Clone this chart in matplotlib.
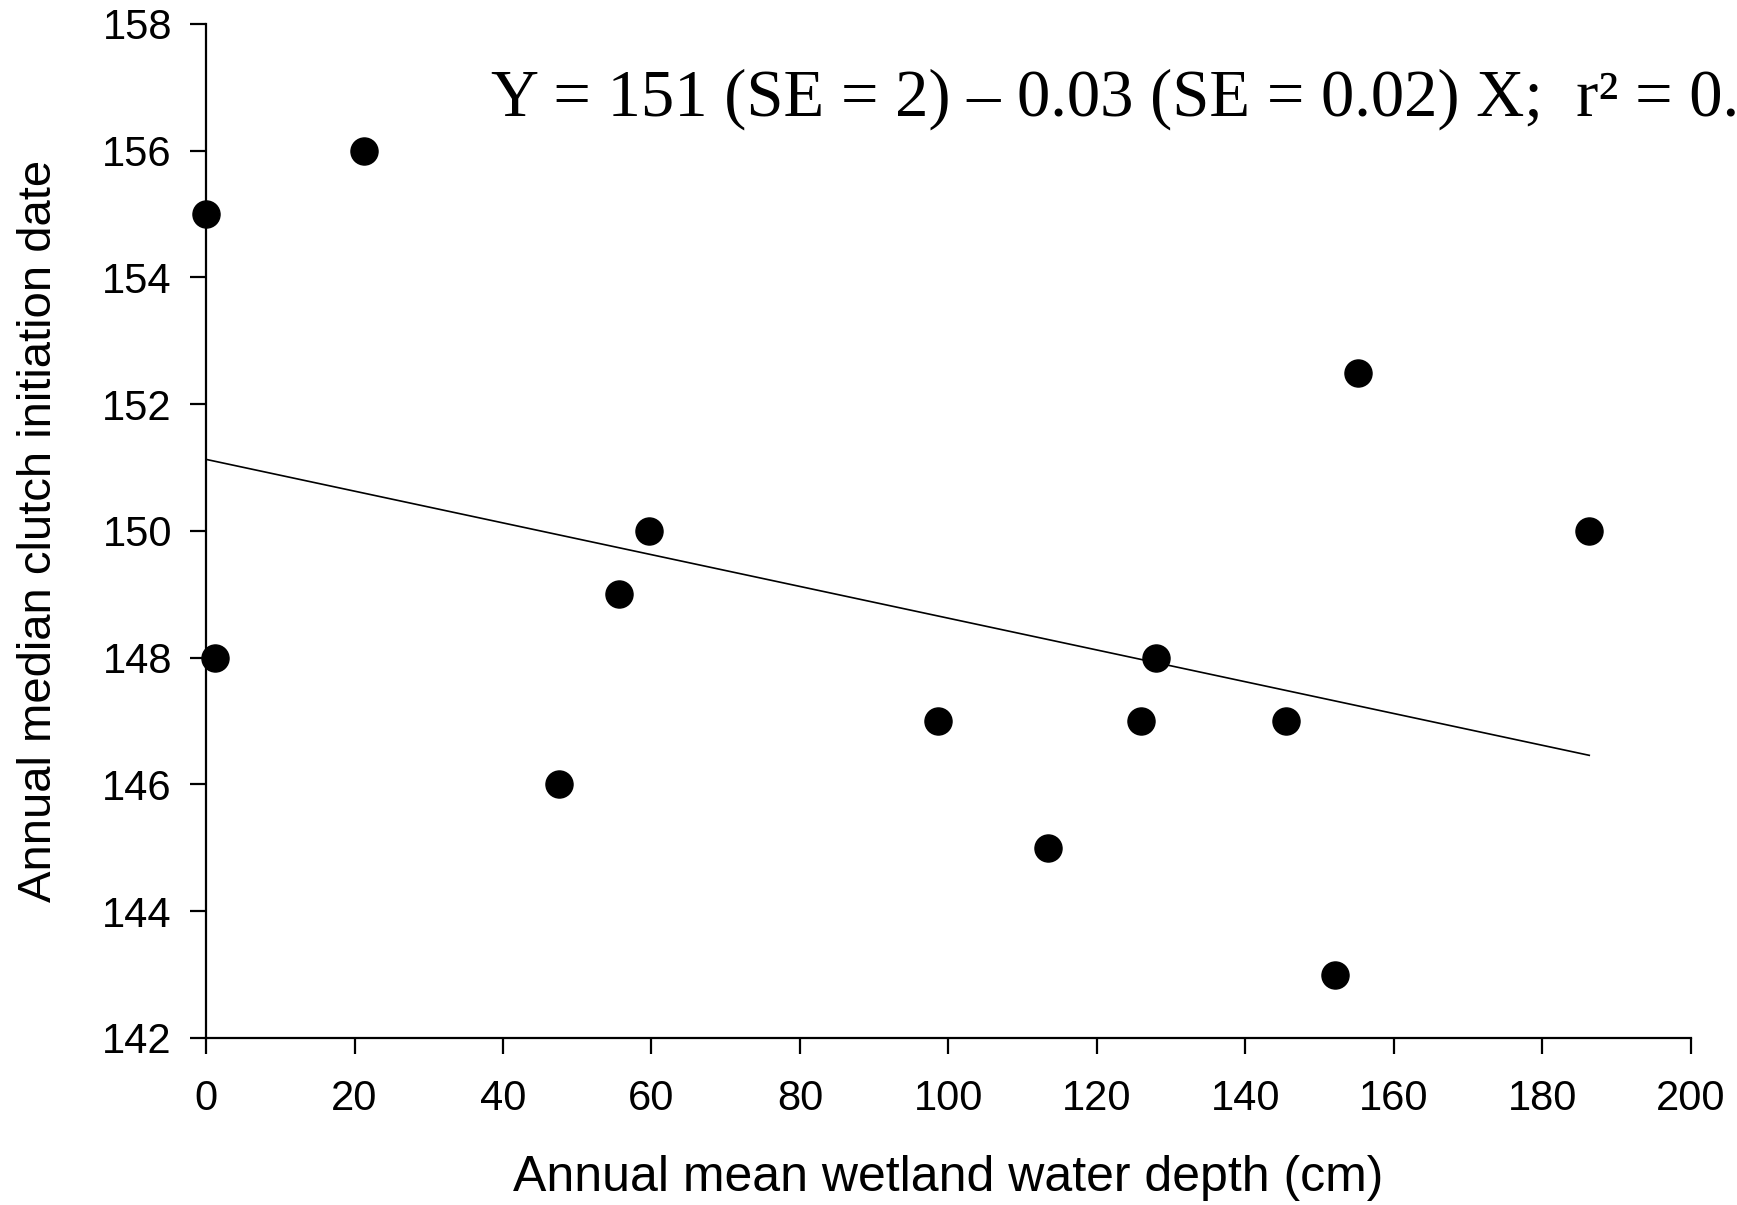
import matplotlib
matplotlib.use("Agg")
import matplotlib.pyplot as plt

# water depth (cm) and median clutch initiation date per year
depth = [0.0, 21.3, 1.2, 47.6, 55.6, 59.7, 98.6, 113.4, 125.9, 128.0, 145.4, 152.1, 155.1, 186.3]
date = [155, 156, 148, 146, 149, 150, 147, 145, 147, 148, 147, 143, 152.5, 150]

# fitted line end points
fit_x = [0.0, 186.3]
fit_y = [151.13, 146.46]

xticks = list(range(0, 201, 20))
yticks = list(range(142, 159, 2))

plt.rcParams['font.family'] = ['Liberation Sans', 'DejaVu Sans']

fig = plt.figure(figsize=(17.37, 12.05), dpi=100)
ax = fig.add_axes([0.1186, 0.1386, 0.8549, 0.8415])

ax.plot(fit_x, fit_y, color='black', lw=1.2)
ax.scatter(depth, date, s=380, color='black', zorder=3, clip_on=False)

ax.set_xlim(0, 200)
ax.set_ylim(142, 158)
ax.set_xticks(xticks)
ax.set_yticks(yticks)
ax.spines['top'].set_visible(False)
ax.spines['right'].set_visible(False)
for s in ['left', 'bottom']:
    ax.spines[s].set_linewidth(1.6)
ax.tick_params(direction='out', length=11.5, width=1.6, labelsize=30)
ax.tick_params(axis='x', pad=18)
ax.tick_params(axis='y', pad=13)

ax.set_xlabel('Annual mean wetland water depth (cm)', fontsize=36, labelpad=26)
ax.set_ylabel('Annual median clutch initiation date', fontsize=34, labelpad=30)

# equation runs off the right edge, as in the original
fig.text(491 / 1737, 1 - 116 / 1205,
         'Y = 151 (SE = 2) – 0.03 (SE = 0.02) X;  r² = 0.17',
         family='Liberation Serif', fontsize=48, va='baseline', ha='left')

fig.savefig('out.png', dpi=100)
